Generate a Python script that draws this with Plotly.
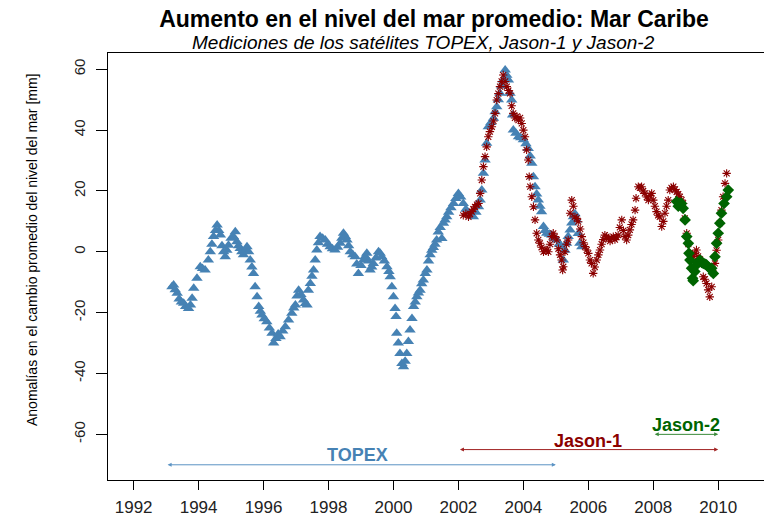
import plotly.graph_objects as go

# ---------------- data ----------------
topex_year = [1993.18, 1993.23, 1993.28, 1993.34, 1993.40, 1993.47, 1993.54, 1993.60, 1993.69, 1993.75,
              1993.80, 1993.85, 1993.95, 1994.05, 1994.12, 1994.20, 1994.30, 1994.36, 1994.41, 1994.46,
              1994.52, 1994.57, 1994.62, 1994.67, 1994.72, 1994.77, 1994.82, 1994.87, 1994.92, 1995.00,
              1995.07, 1995.13, 1995.18, 1995.23, 1995.28, 1995.33, 1995.38, 1995.44, 1995.49, 1995.54,
              1995.59, 1995.64, 1995.69, 1995.74, 1995.80, 1995.85, 1995.90, 1995.95, 1996.02, 1996.10,
              1996.18, 1996.26, 1996.31, 1996.38, 1996.45, 1996.51, 1996.59, 1996.67, 1996.77, 1996.87,
              1996.93, 1996.98, 1997.03, 1997.08, 1997.15, 1997.23, 1997.29, 1997.34, 1997.38, 1997.44,
              1997.49, 1997.54, 1997.59, 1997.64, 1997.69, 1997.74, 1997.82, 1997.90, 1997.97, 1998.05,
              1998.12, 1998.20, 1998.28, 1998.36, 1998.41, 1998.46, 1998.52, 1998.57, 1998.62, 1998.67,
              1998.75, 1998.82, 1998.87, 1998.92, 1999.00, 1999.08, 1999.13, 1999.18, 1999.23, 1999.28,
              1999.33, 1999.38, 1999.46, 1999.54, 1999.59, 1999.64, 1999.72, 1999.80, 1999.86, 1999.90,
              1999.95, 2000.00, 2000.05, 2000.08, 2000.10, 2000.15, 2000.20, 2000.26, 2000.31, 2000.36,
              2000.41, 2000.46, 2000.51, 2000.57, 2000.62, 2000.67, 2000.72, 2000.77, 2000.82, 2000.87,
              2000.92, 2000.98, 2001.03, 2001.08, 2001.13, 2001.18, 2001.23, 2001.28, 2001.33, 2001.38,
              2001.44, 2001.49, 2001.54, 2001.59, 2001.64, 2001.70, 2001.77, 2001.85, 2001.92, 2002.00,
              2002.07, 2002.15, 2002.23, 2002.31, 2002.38, 2002.46, 2002.54, 2002.62, 2002.67, 2002.72,
              2002.77, 2002.82, 2002.87, 2002.92, 2003.00, 2003.08, 2003.13, 2003.18, 2003.23, 2003.28,
              2003.33, 2003.38, 2003.44, 2003.49, 2003.54, 2003.59, 2003.64, 2003.67, 2003.69, 2003.77,
              2003.85, 2003.92, 2004.00, 2004.08, 2004.15, 2004.21, 2004.26, 2004.31, 2004.36, 2004.41,
              2004.46, 2004.51, 2004.56, 2004.62, 2004.67, 2004.72, 2004.80, 2004.87, 2004.95, 2005.03,
              2005.10, 2005.18, 2005.23, 2005.28, 2005.33, 2005.38, 2005.44, 2005.49, 2005.54, 2005.59,
              2005.64, 2005.69, 2005.74, 2005.80]
topex_mm = [-11.5, -10.9, -12.5, -13.6, -15.5, -16.5, -16.9, -18.0, -18.6, -17.5,
            -15.3, -12.0, -8.7, -4.9, -5.5, -6.0, -2.7, 0.0, 2.5, 5.0,
            7.0, 8.8, 7.0, 5.5, 2.0, 0.0, -1.6, 0.5, 2.2, 4.5,
            5.0, 6.6, 3.3, 2.0, 1.1, 0.0, -1.0, 0.5, 1.7, 0.0,
            -2.7, -5.0, -7.1, -11.5, -14.8, -18.0, -19.5, -20.8, -22.0, -23.0,
            -25.0, -26.8, -30.0, -28.5, -27.0, -27.9, -26.0, -24.6, -22.4, -20.2,
            -18.5, -17.5, -14.5, -12.6, -14.0, -15.8, -17.0, -17.5, -12.6, -10.4,
            -8.0, -6.0, -2.7, 0.6, 3.0, 5.0, 4.5, 3.9, 2.5, 1.7,
            1.0, 0.6, 1.5, 2.8, 4.5, 6.1, 5.0, 3.9, 2.0, 0.0,
            -1.0, -1.6, -4.0, -7.1, -4.5, -2.7, -1.5, -0.5, -3.0, -6.0,
            -5.0, -3.8, -2.0, 0.0, -0.5, -1.6, -3.0, -4.9, -6.5, -8.2,
            -11.5, -14.8, -18.6, -21.3, -26.8, -30.0, -33.4, -36.7, -37.8, -36.0,
            -33.4, -29.5, -25.7, -21.9, -18.0, -16.5, -14.8, -13.5, -12.6, -10.5,
            -9.3, -7.1, -6.0, -3.0, -1.0, 0.5, 1.4, 2.5, 3.9, 6.5,
            8.0, 4.4, 9.4, 10.5, 11.5, 13.0, 14.5, 15.9, 17.5, 19.2,
            18.0, 15.9, 14.0, 12.7, 12.0, 11.5, 13.0, 14.8, 17.0, 20.3,
            25.8, 30.2, 35.7, 41.1, 42.5, 43.9, 46.0, 47.7, 50.0, 52.1,
            54.5, 56.5, 59.8, 58.0, 56.5, 52.1, 49.9, 45.0, 40.0, 39.0,
            37.8, 37.5, 36.8, 35.5, 34.0, 31.5, 29.1, 24.7, 21.4, 19.0,
            17.0, 15.0, 13.2, 8.3, 7.0, 6.1, 5.8, 5.5, 4.5, 3.9,
            2.5, 1.7, -2.7, 0.5, 2.8, 5.0, 7.2, 9.5, 11.5, 12.5,
            10.5, 6.0, 2.8, 1.7]

jason1_year = [2002.15, 2002.23, 2002.31, 2002.36, 2002.41, 2002.46, 2002.51, 2002.57, 2002.62, 2002.67,
               2002.72, 2002.77, 2002.82, 2002.87, 2002.92, 2002.97, 2003.03, 2003.08, 2003.13, 2003.18,
               2003.23, 2003.28, 2003.33, 2003.38, 2003.44, 2003.49, 2003.54, 2003.59, 2003.64, 2003.69,
               2003.74, 2003.80, 2003.85, 2003.90, 2003.95, 2004.00, 2004.05, 2004.10, 2004.15, 2004.18,
               2004.21, 2004.26, 2004.31, 2004.36, 2004.41, 2004.46, 2004.51, 2004.56, 2004.62, 2004.67,
               2004.72, 2004.77, 2004.82, 2004.87, 2004.92, 2004.97, 2005.03, 2005.08, 2005.13, 2005.18,
               2005.21, 2005.23, 2005.28, 2005.33, 2005.38, 2005.44, 2005.49, 2005.54, 2005.59, 2005.64,
               2005.69, 2005.75, 2005.80, 2005.85, 2005.90, 2005.95, 2006.00, 2006.05, 2006.10, 2006.15,
               2006.20, 2006.26, 2006.31, 2006.36, 2006.41, 2006.46, 2006.51, 2006.56, 2006.62, 2006.67,
               2006.72, 2006.77, 2006.82, 2006.87, 2006.92, 2006.97, 2007.03, 2007.08, 2007.13, 2007.18,
               2007.23, 2007.28, 2007.33, 2007.38, 2007.44, 2007.47, 2007.54, 2007.59, 2007.64, 2007.69,
               2007.74, 2007.80, 2007.85, 2007.90, 2007.95, 2008.00, 2008.05, 2008.10, 2008.15, 2008.20,
               2008.26, 2008.31, 2008.36, 2008.41, 2008.46, 2008.51, 2008.56, 2008.62, 2008.67, 2008.72,
               2008.77, 2008.82, 2008.87, 2008.92, 2008.97, 2009.03, 2009.08, 2009.13, 2009.18, 2009.23,
               2009.28, 2009.33, 2009.38, 2009.44, 2009.49, 2009.54, 2009.59, 2009.64, 2009.69, 2009.74,
               2009.80, 2009.85, 2009.90, 2009.95, 2010.00, 2010.05, 2010.10, 2010.15, 2010.21, 2010.26]
jason1_mm = [12.0, 12.5, 11.5, 12.5, 13.2, 14.0, 14.8, 15.5, 15.9, 19.2,
             23.6, 28.0, 31.3, 34.5, 37.8, 39.5, 41.1, 43.0, 45.5, 49.9,
             52.0, 54.3, 56.0, 58.1, 56.0, 54.3, 53.0, 52.1, 48.0, 45.5,
             44.0, 44.5, 43.3, 44.0, 42.2, 40.0, 37.8, 33.5, 30.2, 24.7,
             21.4, 18.1, 14.8, 10.5, 6.1, 3.9, 2.8, 1.5, 0.0, 0.6,
             0.6, 0.0, 2.5, 5.0, 6.1, 5.0, 3.9, 1.0, -1.0, -2.7,
             -6.0, -4.9, 0.0, 2.5, 3.9, 12.7, 17.0, 15.0, 11.5, 11.0,
             9.9, 7.5, 5.0, 3.0, 1.7, 0.6, -0.5, -2.7, -3.8, -7.1,
             -5.0, -2.7, -1.0, 0.6, 2.5, 4.0, 5.5, 5.0, 4.4, 3.5,
             4.5, 5.0, 4.0, 4.8, 5.5, 8.0, 10.5, 7.0, 5.0, 3.9,
             5.5, 7.2, 9.0, 10.5, 13.7, 17.6, 21.4, 21.0, 21.4, 20.0,
             19.2, 18.0, 17.0, 18.5, 19.2, 17.0, 15.0, 13.2, 12.0, 11.5,
             8.3, 10.0, 12.7, 15.0, 17.0, 20.3, 21.0, 21.4, 20.5, 19.7,
             19.0, 18.1, 17.0, 15.9, 11.0, 6.1, 2.5, -0.5, -1.0, -1.6,
             -0.5, 0.6, -1.5, -2.5, -3.8, -8.2, -9.0, -10.4, -12.5, -14.8,
             -11.5, -7.0, -3.8, 0.5, 3.9, 9.4, 13.7, 18.1, 22.5, 25.8]

jason2_year = [2008.72, 2008.77, 2008.82, 2008.87, 2008.92, 2008.98, 2009.03, 2009.08, 2009.10, 2009.13,
               2009.18, 2009.21, 2009.23, 2009.28, 2009.33, 2009.38, 2009.44, 2009.49, 2009.54, 2009.59,
               2009.64, 2009.70, 2009.75, 2009.80, 2009.85, 2009.90, 2009.95, 2010.00, 2010.05, 2010.10,
               2010.18, 2010.26, 2010.31]
jason2_mm = [16.5, 15.0, 16.0, 15.9, 14.3, 10.5, 5.0, 2.8, -0.5, -2.7,
             -5.4, -8.7, -9.5, -6.5, -4.3, -3.5, -2.7, -3.5, -3.8, -4.0,
             -4.3, -5.0, -5.5, -5.4, -7.1, -1.6, 2.8, 6.1, 9.4, 12.7,
             15.9, 18.1, 20.3]

# mission spans (start year, end year, arrow level mm, label)
mission_names = ["TOPEX", "Jason-1", "Jason-2"]
mission_start = [1993.0, 2002.0, 2008.0]
mission_end = [2005.0, 2010.0, 2010.0]
mission_level = [-70, -65, -60]
mission_label_x = [1998.9, 2006.0, 2009.0]
mission_label_y = [-66.8, -62.2, -56.9]

x_ticks = [1992, 1994, 1996, 1998, 2000, 2002, 2004, 2006, 2008, 2010]
y_ticks = [-60, -40, -20, 0, 20, 40, 60]

title_text = "<b>Aumento en el nivel del mar promedio: Mar Caribe</b>"
subtitle_text = "<i>Mediciones de los satélites TOPEX, Jason-1 y Jason-2</i>"
y_title = "Anomalías en el cambio promedio del nivel del mar [mm]"

# ---------------- style ----------------
FONT = "Arial, Liberation Sans, sans-serif"
c_topex = "#4682B4"
c_j1 = "#8B0000"
c_j2 = "#006400"
mission_colors = [c_topex, c_j1, c_j2]
mission_line_colors = ["#5b93c4", "#a02020", "#3a8a3a"]

fig = go.Figure()
fig.add_trace(go.Scatter(x=topex_year, y=topex_mm, mode="markers",
                         marker=dict(symbol="triangle-up", size=10, color=c_topex, line=dict(width=0)),
                         showlegend=False, hoverinfo="skip"))
fig.add_trace(go.Scatter(x=jason1_year, y=jason1_mm, mode="markers",
                         marker=dict(symbol="asterisk-open", size=7, color=c_j1,
                                     line=dict(width=1.1, color=c_j1)),
                         showlegend=False, hoverinfo="skip"))
fig.add_trace(go.Scatter(x=jason2_year, y=jason2_mm, mode="markers",
                         marker=dict(symbol="diamond", size=9, color=c_j2, line=dict(width=0)),
                         showlegend=False, hoverinfo="skip"))

annotations = []
for i in range(len(mission_names)):
    annotations.append(dict(x=mission_end[i], y=mission_level[i], ax=mission_start[i], ay=mission_level[i],
                            xref="x", yref="y", axref="x", ayref="y", text="", showarrow=True,
                            arrowhead=2, arrowside="end+start", arrowsize=0.8, arrowwidth=1,
                            arrowcolor=mission_line_colors[i], standoff=0, startstandoff=0))
    annotations.append(dict(x=mission_label_x[i], y=mission_label_y[i], xref="x", yref="y",
                            text="<b>%s</b>" % mission_names[i], showarrow=False,
                            font=dict(family=FONT, size=18, color=mission_colors[i]),
                            xanchor="center", yanchor="middle"))

annotations.append(dict(x=(423 - 108) / 656, y=(480 - 43) / 427, xref="paper", yref="paper",
                        text=subtitle_text, showarrow=False, xanchor="center", yanchor="middle",
                        font=dict(family=FONT, size=19, color="#000000")))
annotations.append(dict(x=0, y=(480 - 250) / 427, xref="paper", yref="paper", xshift=-76,
                        text=y_title, textangle=-90, showarrow=False, xanchor="center", yanchor="middle",
                        font=dict(family=FONT, size=14, color="#000000")))

fig.update_layout(
    width=764, height=517,
    margin=dict(l=108, r=0, t=53, b=37, pad=0, autoexpand=False),
    paper_bgcolor="white", plot_bgcolor="white",
    title=dict(text=title_text, x=434 / 764, xanchor="center", y=1 - 19 / 517, yanchor="middle",
               font=dict(family=FONT, size=23, color="#000000")),
    font=dict(family=FONT, color="#000000"),
    annotations=annotations,
    xaxis=dict(range=[1991.21, 2011.41], tickvals=x_ticks, ticktext=[str(v) for v in x_ticks],
               automargin=False,
               showgrid=False, zeroline=False, showline=True, linecolor="#000000", linewidth=1,
               mirror=True, ticks="outside", ticklen=9, tickcolor="#000000", tickwidth=1,
               ticklabelstandoff=3, tickfont=dict(family=FONT, size=17, color="#222222")),
    yaxis=dict(range=[-75.0, 65.35], tickvals=y_ticks, ticktext=[str(v) for v in y_ticks],
               automargin=False,
               showgrid=False, zeroline=False, showline=True, linecolor="#000000", linewidth=1,
               mirror=False, ticks="outside", ticklen=11, tickcolor="#000000", tickwidth=1,
               tickangle=-90, ticklabelstandoff=5, tickfont=dict(family=FONT, size=15, color="#222222")),
)

fig.write_html("out.html", config={"displayModeBar": False},
               post_script="document.body.style.margin='0';document.body.style.padding='0';")
